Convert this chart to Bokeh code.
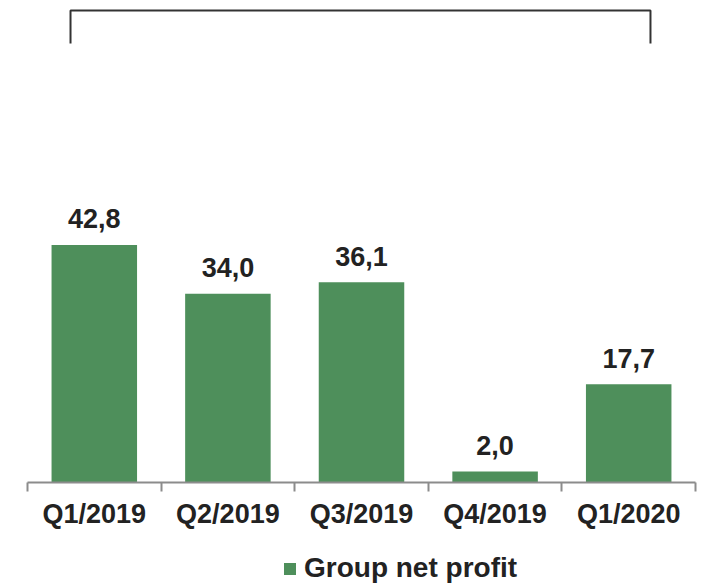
import numpy as np
from bokeh.plotting import figure
from bokeh.layouts import column
from bokeh.models import Range1d, FixedTicker, Legend, LegendItem, ColumnDataSource
from bokeh.core.properties import value
from bokeh.embed import file_html
from bokeh.resources import INLINE

# ---- data ----
categories = ["Q1/2019", "Q2/2019", "Q3/2019", "Q4/2019", "Q1/2020"]
profit = [42.8, 34.0, 36.1, 2.0, 17.7]
series_name = "Group net profit"

# ---- style ----
BAR_COLOR = "#4E8F5B"
TEXT_COLOR = "#222222"
AXIS_COLOR = "#8C8C8C"
FONT = "Liberation Sans"

n = len(categories)
xpos = (np.arange(n) + 0.5).tolist()
labels = [f"{v:.1f}".replace(".", ",") for v in profit]
src = ColumnDataSource(dict(x=xpos, y=profit, lab=labels, cat=categories))

# ---- main chart ----
p = figure(width=703, height=540, output_backend="svg", toolbar_location=None,
           x_range=Range1d(0, n), y_range=Range1d(0, 86.86),
           min_border_left=27, min_border_right=8, min_border_top=0, min_border_bottom=58)
p.outline_line_color = None
p.xgrid.visible = False
p.ygrid.visible = False
p.yaxis.visible = False
p.background_fill_color = "white"
p.border_fill_color = "white"

p.vbar(x="x", top="y", width=0.64, source=src, fill_color=BAR_COLOR, line_color=None)

p.text(x="x", y="y", text="lab", source=src, text_align="center", text_baseline="alphabetic",
       y_offset=-26, text_font=value(FONT), text_font_style="bold", text_font_size="27px",
       text_color=TEXT_COLOR)

ax = p.xaxis[0]
ax.ticker = FixedTicker(ticks=xpos, minor_ticks=list(range(0, n + 1)))
ax.major_label_overrides = {x: c for x, c in zip(xpos, categories)}
ax.major_tick_line_color = None
ax.major_tick_out = 0
ax.major_tick_in = 0
ax.minor_tick_line_color = AXIS_COLOR
ax.minor_tick_line_width = 2
ax.minor_tick_out = 9
ax.minor_tick_in = 0
ax.axis_line_color = AXIS_COLOR
ax.axis_line_width = 2
ax.major_label_standoff = 7
ax.major_label_text_font = FONT
ax.major_label_text_font_style = "bold"
ax.major_label_text_font_size = "27px"
ax.major_label_text_color = TEXT_COLOR

# decorative bracket above the chart
p.line(x=[0.322, 0.322, 4.663, 4.663], y=[79.11, 85.06, 85.06, 79.11],
       line_color="#333333", line_width=2)

# ---- legend strip (its bars lie outside its view; only the legend shows) ----
pl = figure(width=703, height=44, output_backend="svg", toolbar_location=None,
            x_range=Range1d(100, 110), y_range=Range1d(100, 101),
            x_axis_type=None, y_axis_type=None,
            min_border_left=0, min_border_right=0, min_border_top=0, min_border_bottom=0)
pl.outline_line_color = None
pl.xgrid.visible = False
pl.ygrid.visible = False
pl.background_fill_color = "white"
pl.border_fill_color = "white"
leg_bars = pl.vbar(x="x", top="y", width=0.64, source=src, fill_color=BAR_COLOR, line_color=None)

legend = Legend(items=[LegendItem(label=series_name, renderers=[leg_bars])],
                location=(255, 0), padding=0, margin=0, spacing=0,
                border_line_color=None, background_fill_alpha=0,
                glyph_width=15, glyph_height=15, label_standoff=7,
                label_text_font=FONT, label_text_font_style="bold",
                label_text_font_size="28px", label_text_color=TEXT_COLOR)
pl.add_layout(legend, "center")

layout = column(p, pl, spacing=0)
open("out.html", "w").write(file_html(layout, INLINE))
